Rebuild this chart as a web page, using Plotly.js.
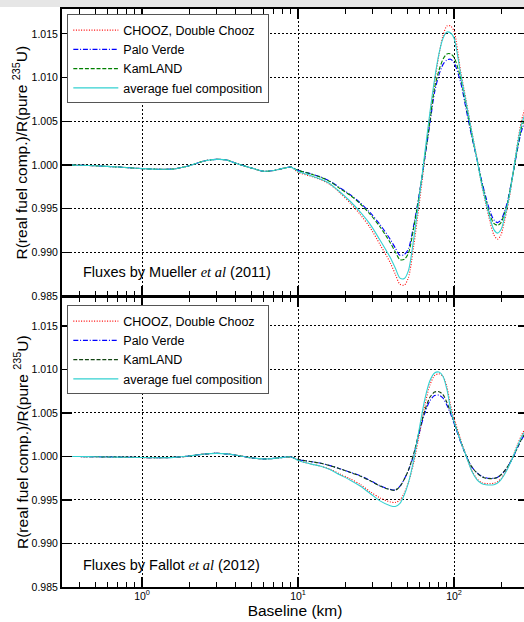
<!DOCTYPE html>
<html>
<head>
<meta charset="utf-8">
<script src="https://cdn.plot.ly/plotly-3.0.1.min.js"></script>
<style>
  html, body { margin: 0; padding: 0; overflow: hidden; background: #fff; width: 524px; height: 622px; }
  #chart { width: 530px; height: 622px; }
</style>
</head>
<body>
<div id="chart"></div>
<script>
// Baseline grid (km) shared by every curve
const baselineKm = [0.3, 0.4, 0.5, 0.7, 1.0, 1.3, 1.6, 2.0, 2.5, 3.0, 3.5, 4.0, 5.0, 6.0, 7.0, 8.0, 9.0,
  10, 12, 14, 16, 18.5, 21.5, 25, 29, 33.5, 39, 42, 45, 48, 51, 55, 60, 65, 70,
  75, 80, 85, 90, 95, 100, 110, 120, 130, 140, 150, 160, 170, 180, 190, 200,
  210, 220, 230, 240, 255, 270, 285];

// Short baselines (0.3 - 9 km): the four fuel compositions coincide
const muellerShort = [1.00000, 0.99996, 0.99990, 0.99976, 0.99958, 0.99950, 0.99954, 0.99990, 1.00045,
  1.00063, 1.00056, 1.00018, 0.99966, 0.99928, 0.99936, 0.99960, 0.99975];
const fallotShort = [1.00000, 0.99999, 0.99997, 0.99993, 0.99988, 0.99986, 0.99990, 1.00005, 1.00028,
  1.00036, 1.00030, 1.00015, 0.99985, 0.99972, 0.99978, 0.99990, 0.99995];

// Mueller et al (2011) fluxes, 10 - 285 km
const muellerChooz = [0.99915, 0.99872, 0.99830, 0.99777, 0.99682, 0.99567, 0.99434, 0.99282, 0.99090, 0.98881,
  0.98750, 0.98635, 0.98625, 0.98710, 0.99060, 0.99570, 1.00080, 1.00560,
  1.00940, 1.01260, 1.01480, 1.01590, 1.01590, 1.01530,
  1.01080, 1.00720, 1.00380, 1.00080, 0.99780, 0.99550, 0.99350, 0.99200, 0.99150, 0.99200,
  0.99350, 0.99510, 0.99700, 0.99930, 1.00250, 1.00500, 1.00650];
const muellerPaloVerde = [0.99940, 0.99900, 0.99862, 0.99815, 0.99740, 0.99662, 0.99567, 0.99453, 0.99319, 0.99148,
  0.99050, 0.98965, 0.98975, 0.99040, 0.99300, 0.99680, 1.00080, 1.00470,
  1.00830, 1.01030, 1.01150, 1.01200, 1.01210, 1.01170,
  1.00950, 1.00620, 1.00320, 1.00070, 0.99830, 0.99630, 0.99470, 0.99370, 0.99340, 0.99370,
  0.99460, 0.99580, 0.99750, 0.99920, 1.00180, 1.00380, 1.00500];
const muellerKamLAND = [0.99938, 0.99897, 0.99858, 0.99811, 0.99731, 0.99655, 0.99556, 0.99434, 0.99293, 0.99110,
  0.99005, 0.98915, 0.98920, 0.98990, 0.99270, 0.99670, 1.00100, 1.00500,
  1.00880, 1.01080, 1.01210, 1.01270, 1.01270, 1.01230,
  1.01000, 1.00660, 1.00340, 1.00070, 0.99810, 0.99600, 0.99430, 0.99330, 0.99310, 0.99340,
  0.99440, 0.99560, 0.99740, 0.99920, 1.00200, 1.00420, 1.00540];
const muellerAverage = [0.99925, 0.99880, 0.99835, 0.99785, 0.99693, 0.99587, 0.99462, 0.99319, 0.99140, 0.98940,
  0.98820, 0.98705, 0.98700, 0.98790, 0.99140, 0.99640, 1.00140, 1.00600,
  1.00980, 1.01270, 1.01450, 1.01520, 1.01510, 1.01450,
  1.01050, 1.00700, 1.00370, 1.00070, 0.99790, 0.99570, 0.99390, 0.99260, 0.99220, 0.99260,
  0.99390, 0.99540, 0.99720, 0.99930, 1.00230, 1.00460, 1.00580];

// Fallot et al (2012) fluxes, 10 - 285 km
const fallotChooz = [0.99955, 0.99915, 0.99888, 0.99855, 0.99800, 0.99745, 0.99680, 0.99595, 0.99525, 0.99478,
  0.99472, 0.99500, 0.99580, 0.99700, 0.99920, 1.00260, 1.00590, 1.00820,
  1.00930, 1.00950, 1.00920, 1.00800, 1.00590, 1.00440,
  1.00200, 1.00000, 0.99840, 0.99745, 0.99700, 0.99688, 0.99688, 0.99692, 0.99710, 0.99745,
  0.99800, 0.99865, 0.99940, 1.00015, 1.00135, 1.00240, 1.00320];
const fallotPaloVerde = [0.99965, 0.99942, 0.99922, 0.99895, 0.99860, 0.99820, 0.99780, 0.99724, 0.99665, 0.99622,
  0.99615, 0.99660, 0.99740, 0.99840, 1.00010, 1.00280, 1.00500, 1.00640,
  1.00700, 1.00705, 1.00670, 1.00590, 1.00490, 1.00380,
  1.00170, 1.00000, 0.99880, 0.99815, 0.99775, 0.99755, 0.99748, 0.99750, 0.99762, 0.99790,
  0.99830, 0.99880, 0.99935, 0.99995, 1.00100, 1.00190, 1.00255];
const fallotKamLAND = [0.99965, 0.99942, 0.99922, 0.99895, 0.99860, 0.99818, 0.99776, 0.99720, 0.99660, 0.99618,
  0.99612, 0.99655, 0.99740, 0.99845, 1.00025, 1.00300, 1.00530, 1.00680,
  1.00740, 1.00745, 1.00710, 1.00620, 1.00510, 1.00400,
  1.00180, 1.00000, 0.99880, 0.99812, 0.99770, 0.99750, 0.99745, 0.99748, 0.99760, 0.99790,
  0.99832, 0.99882, 0.99938, 1.00000, 1.00105, 1.00195, 1.00262];
const fallotAverage = [0.99955, 0.99915, 0.99888, 0.99850, 0.99790, 0.99730, 0.99660, 0.99575, 0.99490, 0.99435,
  0.99425, 0.99460, 0.99560, 0.99700, 0.99950, 1.00330, 1.00660, 1.00870,
  1.00960, 1.00970, 1.00920, 1.00770, 1.00550, 1.00400,
  1.00180, 1.00000, 0.99830, 0.99735, 0.99690, 0.99675, 0.99672, 0.99676, 0.99695, 0.99735,
  0.99790, 0.99855, 0.99930, 1.00005, 1.00120, 1.00220, 1.00292];

const seriesNames = ['CHOOZ, Double Chooz', 'Palo Verde', 'KamLAND', 'average fuel composition'];
const xTickVals = [1, 10, 100];
const xTickText = ['10<sup>0</sup>', '10<sup>1</sup>', '10<sup>2</sup>'];
const xMinorVals = [0.4, 0.5, 0.6, 0.7, 0.8, 0.9, 2, 3, 4, 5, 6, 7, 8, 9,
  20, 30, 40, 50, 60, 70, 80, 90, 200, 300];
const yTitle = 'R(real fuel comp.)/R(pure <sup>235</sup>U)';

const FONT = 'Liberation Sans, Arial, sans-serif';
const cyan = '#33d1d1';

const topStyles = [
  {color: '#ff0000', dash: '1px,1.6px'},
  {color: '#0000ff', dash: '5px,1.8px,1px,1.8px'},
  {color: '#008000', dash: '4px,1.8px'},
  {color: cyan, dash: 'solid'}
];
const bottomStyles = [
  {color: '#ff0000', dash: '1px,1.6px'},
  {color: '#0000ff', dash: '5px,1.8px,1px,1.8px'},
  {color: '#124412', dash: '4px,1.8px'},
  {color: cyan, dash: 'solid'}
];

const muellerSets = [muellerChooz, muellerPaloVerde, muellerKamLAND, muellerAverage];
const fallotSets = [fallotChooz, fallotPaloVerde, fallotKamLAND, fallotAverage];

const traces = [];
muellerSets.forEach((vals, i) => {
  traces.push({
    x: baselineKm, y: muellerShort.concat(vals), type: 'scatter', mode: 'lines',
    name: seriesNames[i], xaxis: 'x', yaxis: 'y', legend: 'legend',
    line: {color: topStyles[i].color, dash: topStyles[i].dash, width: 1.1, shape: 'spline', smoothing: 0.8},
    hoverinfo: 'skip'
  });
});
fallotSets.forEach((vals, i) => {
  traces.push({
    x: baselineKm, y: fallotShort.concat(vals), type: 'scatter', mode: 'lines',
    name: seriesNames[i], xaxis: 'x2', yaxis: 'y2', legend: 'legend2',
    line: {color: bottomStyles[i].color, dash: bottomStyles[i].dash, width: 1.1, shape: 'spline', smoothing: 0.8},
    hoverinfo: 'skip'
  });
});

const gridDash = '1.5px,2.5px';
function xAxis(anchor, labels) {
  return {
    type: 'log', range: [-0.513, 2.474], anchor: anchor,
    showline: true, linecolor: '#000', linewidth: 2, mirror: 'allticks',
    ticks: 'inside', ticklen: 10, tickwidth: 1.2, tickcolor: '#000',
    tickmode: 'array', tickvals: xTickVals, ticktext: xTickText,
    showticklabels: labels, ticklabelstandoff: -2,
    tickfont: {family: FONT, size: 10.5, color: '#000'},
    showgrid: true, gridcolor: '#000', gridwidth: 1, griddash: gridDash, zeroline: false,
    minor: {tickmode: 'array', tickvals: xMinorVals, ticks: 'inside', ticklen: 5,
            tickwidth: 1, tickcolor: '#000', showgrid: false}
  };
}
function yAxis(domain, top) {
  return {
    domain: domain, range: [0.985, top],
    showline: true, linecolor: '#000', linewidth: 2, mirror: 'allticks',
    ticks: 'inside', ticklen: 10, tickwidth: 1.2, tickcolor: '#000',
    tickmode: 'linear', tick0: 0.985, dtick: 0.005, tickformat: '.3f',
    tickfont: {family: FONT, size: 10.5, color: '#000'},
    showgrid: true, gridcolor: '#000', gridwidth: 1, griddash: gridDash, zeroline: false
  };
}

const legendBase = {
  xref: 'paper', yref: 'paper', xanchor: 'left', yanchor: 'top', x: 0.0114,
  bgcolor: '#fff', bordercolor: '#555', borderwidth: 1,
  font: {family: FONT, size: 12.5, color: '#000'}, itemwidth: 45, tracegroupgap: 0
};

const etAl = '<i><span style="font-family:Liberation Serif">et al</span></i>';
const titleFont = {family: FONT, size: 15.5, color: '#000'};
// horizontal centre of the rotated y titles, in paper units (x = 22 px)
const yTitleX = (21 - 62) / 466;

const layout = {
  width: 530, height: 622,
  margin: {l: 62, r: 2, t: 9, b: 35},
  paper_bgcolor: '#fff', plot_bgcolor: '#fff',
  font: {family: FONT, color: '#000'},
  xaxis: xAxis('y', false),
  xaxis2: Object.assign(xAxis('y2', true), {
    title: {text: 'Baseline (km)', font: titleFont, standoff: 0}
  }),
  yaxis: yAxis([291 / 578, 1], 1.01784),
  yaxis2: yAxis([0, 290 / 578], 1.01833),
  legend: Object.assign({}, legendBase, {y: 0.9905}),
  legend2: Object.assign({}, legendBase, {y: 0.4871}),
  annotations: [
    {xref: 'paper', yref: 'y domain', x: yTitleX, y: 0.5, xanchor: 'center', yanchor: 'middle',
     textangle: -90, showarrow: false, text: yTitle, font: titleFont},
    {xref: 'paper', yref: 'y2 domain', x: yTitleX, y: 0.5, xanchor: 'center', yanchor: 'middle',
     textangle: -90, showarrow: false, text: yTitle, font: titleFont},
    {xref: 'x domain', yref: 'y domain', x: 0.040, y: 0.084, xanchor: 'left', yanchor: 'middle',
     showarrow: false, text: 'Fluxes by Mueller ' + etAl + ' (2011)', font: {family: FONT, size: 14.5, color: '#000'}},
    {xref: 'x2 domain', yref: 'y2 domain', x: 0.040, y: 0.076, xanchor: 'left', yanchor: 'middle',
     showarrow: false, text: 'Fluxes by Fallot ' + etAl + ' (2012)', font: {family: FONT, size: 14.5, color: '#000'}}
  ],
  shapes: [
    {type: 'rect', xref: 'paper', yref: 'paper', x0: -0.2, x1: 1.1, y0: 1 + 2 / 578, y1: 1 + 9 / 578,
     fillcolor: '#e6e6e6', line: {width: 0}, layer: 'above'}
  ],
  showlegend: true
};

Plotly.newPlot('chart', traces, layout, {displayModeBar: false, staticPlot: true});
</script>
</body>
</html>
